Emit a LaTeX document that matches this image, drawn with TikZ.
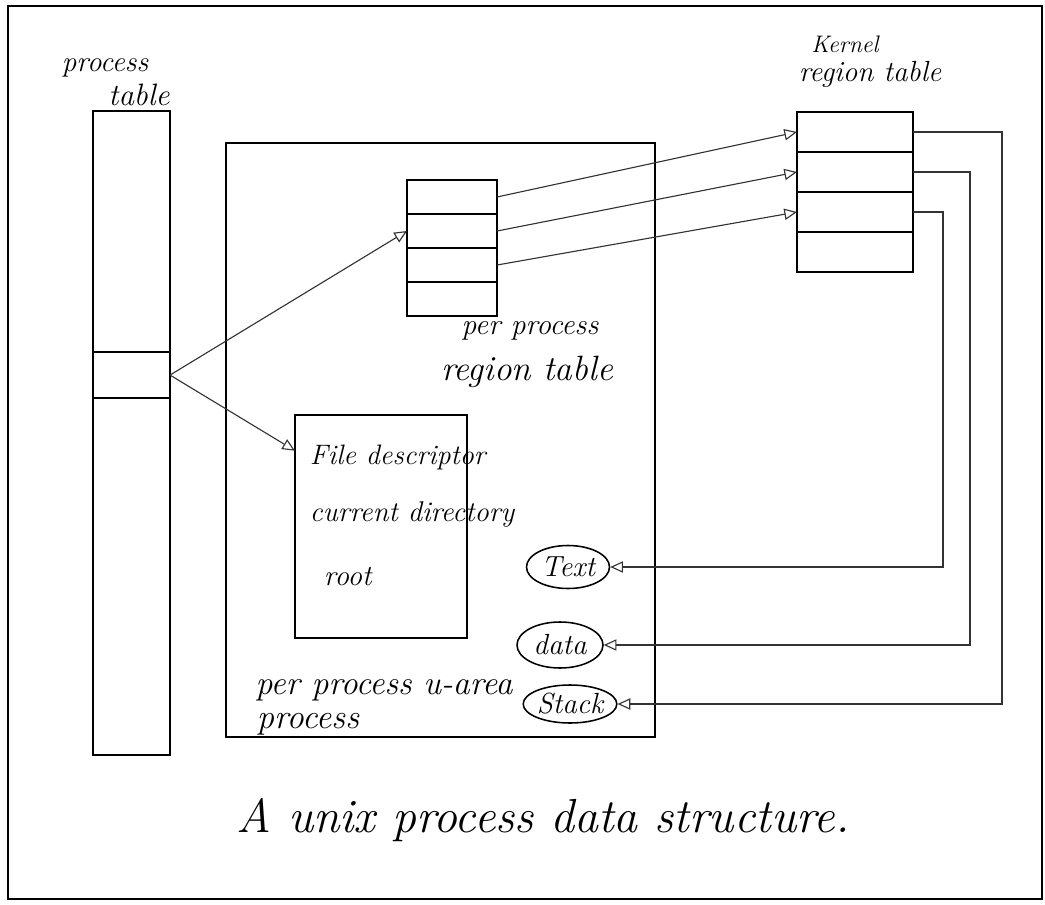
\documentclass[tikz,border=0pt]{standalone}
\usepackage{fontspec}
\usetikzlibrary{arrows.meta, positioning, calc, shapes.geometric}

\begin{document}
\begin{tikzpicture}[x=0.025cm, y=-0.025cm, line width=0.8pt,
    >={Triangle[open, length=9pt, width=8pt]},
    hand/.style={font=\fontsize{20.7}{24}\selectfont\itshape, inner sep=1pt},
    cell/.style={draw, line width=1.1pt, inner sep=0pt, outer sep=0pt},
    link/.style={->, draw=black!80, line width=0.8pt},
    blob/.style={draw, ellipse, line width=1.1pt, inner sep=0pt,
                 font=\fontsize{20.7}{24}\selectfont\itshape}]
  \useasboundingbox (0,0) rectangle (1045,905);
  \draw[line width=1.1pt] (8,6) rectangle (1042,899);

  % process table
  \node[cell, minimum width=1.925cm, minimum height=6.025cm, anchor=north]
        (ptop) at (131.5,111) {};
  \node[cell, minimum width=1.925cm, minimum height=1.15cm,
        below=0pt of ptop] (pentry) {};
  \node[cell, minimum width=1.925cm, minimum height=8.925cm,
        below=0pt of pentry] (pbot) {};
  \node[hand] (ptname) at (105,68) {process};
  \node[hand, font=\fontsize{22}{26}\selectfont\itshape] (pttab) at (139,95) {table};

  % process with its u-area and regions
  \node[cell, minimum width=10.725cm, minimum height=14.85cm, anchor=north west]
        (proc) at (226,143) {};
  \node[hand, font=\fontsize{24.5}{28}\selectfont\itshape, anchor=west]
        (procname) at (255,724) {process};

  \node[cell, minimum width=2.25cm, minimum height=0.85cm, anchor=north]
        (pr1) at (452,180) {};
  \node[cell, minimum width=2.25cm, minimum height=0.85cm, below=0pt of pr1] (pr2) {};
  \node[cell, minimum width=2.25cm, minimum height=0.85cm, below=0pt of pr2] (pr3) {};
  \node[cell, minimum width=2.25cm, minimum height=0.85cm, below=0pt of pr3] (pr4) {};
  \node[hand, font=\fontsize{21}{24}\selectfont\itshape] (prname) at (530,331) {per process};
  \node[hand, font=\fontsize{25}{29}\selectfont\itshape] (prtab) at (527,372) {region table};

  \node[cell, minimum width=4.3cm, minimum height=5.575cm, anchor=north west]
        (uarea) at (295,415) {};
  \node[hand, font=\fontsize{20}{24}\selectfont\itshape, anchor=west]
        (ufd) at (308,457) {File descriptor};
  \node[hand, font=\fontsize{20.3}{24}\selectfont\itshape, anchor=west]
        (ucd) at (308,515) {current directory};
  \node[hand, anchor=west] (uroot) at (322,577) {root};
  \node[hand, font=\fontsize{24}{28}\selectfont\itshape] (uname) at (384,690) {per process u-area};

  \node[blob, minimum width=2.075cm, minimum height=1.075cm] (txt) at (568,567) {Text};
  \node[blob, minimum width=2.15cm, minimum height=1.15cm] (dat) at (560,645) {data};
  \node[blob, minimum width=2.25cm, minimum height=0.95cm] (stk) at (570,704) {Stack};

  % kernel region table
  \node[cell, minimum width=2.9cm, minimum height=1cm, anchor=north]
        (kr1) at (855,112) {};
  \node[cell, minimum width=2.9cm, minimum height=1cm, below=0pt of kr1] (kr2) {};
  \node[cell, minimum width=2.9cm, minimum height=1cm, below=0pt of kr2] (kr3) {};
  \node[cell, minimum width=2.9cm, minimum height=1cm, below=0pt of kr3] (kr4) {};
  \node[hand, font=\fontsize{17}{20}\selectfont\itshape] (krname) at (845,44) {Kernel};
  \node[hand] (krtab) at (870,74) {region table};

  % pointers
  \draw[link] (pentry.east) -- (pr2.west);
  \draw[link] (pentry.east) -- ($(uarea.north west)!0.16!(uarea.south west)$);
  \draw[link] (pr1.east) -- (kr1.west);
  \draw[link] (pr2.east) -- (kr2.west);
  \draw[link] (pr3.east) -- (kr3.west);
  \draw[link] (kr1.east) -- ++(89,0) |- (stk.east);
  \draw[link] (kr2.east) -- ++(57,0) |- (dat.east);
  \draw[link] (kr3.east) -- ++(30,0) |- (txt.east);

  \node[font=\fontsize{34}{38}\selectfont\itshape] (title) at (543,820)
        {A unix process data structure.};
\end{tikzpicture}
\end{document}
